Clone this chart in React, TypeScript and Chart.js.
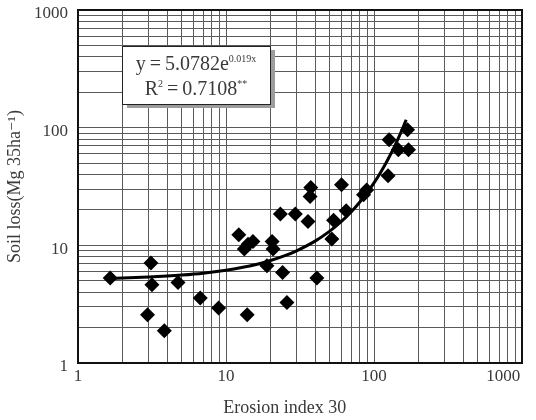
import React, { useEffect, useRef } from "react";
import { Chart, registerables } from "chart.js";

Chart.register(...registerables);

const erosionIndex = [1.65, 3.11, 3.16, 2.95, 3.83, 4.74, 6.7, 8.92, 12.2, 13.3, 14.1, 15.2, 13.9, 18.9, 20.5, 20.8, 24.1, 23.3, 25.8, 29.4, 35.8, 37.4, 37.0, 41.1, 51.9, 53.3, 60.3, 64.9, 85.0, 89.2, 124.5, 126.5, 146, 168.5, 171];
const soilLoss = [5.27, 7.06, 4.62, 2.57, 1.88, 4.83, 3.56, 2.93, 12.3, 9.29, 10.2, 10.8, 2.57, 6.7, 10.8, 9.3, 5.88, 18.5, 3.27, 18.5, 15.96, 31.0, 26.0, 5.27, 11.3, 16.3, 32.7, 19.7, 26.9, 29.6, 39.0, 78.8, 64.8, 95.8, 64.8];

// Fitted trend  y = 5.0782 e^(0.019x)
const trendA = 5.0782;
const trendB = 0.019;
const trendX = [1.65, 2, 3, 4, 5, 7, 10, 13, 16, 20, 25, 30, 40, 50, 60, 70, 80, 90, 100, 110, 120, 130, 140, 150, 158, 165];

// Axis ticks
const decadeLabels = [1, 10, 100, 1000];
const gridMultipliers = [1, 2, 3, 4, 5, 6, 7, 8, 9];

const equationLine1 = ["y\u2009=\u20095.0782e", "0.019x"];
const equationLine2 = ["R", "2", "\u2009=\u20090.7108", "**"];

const FONT = "'Liberation Serif', 'DejaVu Serif', serif";
const TEXT = "#3a3a3a";

function logTicks() {
  const vals: number[] = [];
  for (let d = 0; d < 3; d++) {
    for (const m of gridMultipliers) vals.push(m * Math.pow(10, d));
  }
  vals.push(1000);
  return vals.map((v) => ({ value: v, major: decadeLabels.includes(v) }));
}

type Part = { t: string; size: number; dy: number };
function drawRich(ctx: CanvasRenderingContext2D, parts: Part[], cx: number, by: number) {
  let total = 0;
  const widths = parts.map((p) => {
    ctx.font = `${p.size}px ${FONT}`;
    const w = ctx.measureText(p.t).width;
    total += w;
    return w;
  });
  let x = cx - total / 2;
  ctx.textAlign = "left";
  ctx.textBaseline = "alphabetic";
  parts.forEach((p, i) => {
    ctx.font = `${p.size}px ${FONT}`;
    ctx.fillText(p.t, x, by + p.dy);
    x += widths[i];
  });
}

const framePlugin = {
  id: "frameAndNote",
  afterDraw(chart: any) {
    const { ctx, chartArea } = chart;
    ctx.save();
    ctx.strokeStyle = "#111";
    ctx.lineWidth = 2;
    ctx.strokeRect(chartArea.left, chartArea.top, chartArea.right - chartArea.left, chartArea.bottom - chartArea.top);

    // annotation box
    const bx = chartArea.left + 44;
    const by = chartArea.top + 36;
    const bw = 148;
    const bh = 58;
    ctx.fillStyle = "#9c9c9c";
    ctx.fillRect(bx + 5, by + 4, bw, bh);
    ctx.fillStyle = "#fff";
    ctx.fillRect(bx, by, bw, bh);
    ctx.strokeStyle = "#222";
    ctx.lineWidth = 1;
    ctx.strokeRect(bx + 0.5, by + 0.5, bw, bh);

    ctx.fillStyle = TEXT;
    const cx = bx + bw / 2;
    drawRich(ctx, [
      { t: equationLine1[0], size: 20, dy: 0 },
      { t: equationLine1[1], size: 10, dy: -8 },
    ], cx, by + 24);
    drawRich(ctx, [
      { t: equationLine2[0], size: 20, dy: 0 },
      { t: equationLine2[1], size: 10, dy: -8 },
      { t: equationLine2[2], size: 20, dy: 0 },
      { t: equationLine2[3], size: 10, dy: -8 },
    ], cx, by + 49);
    ctx.restore();
  },
};

export default function App() {
  const ref = useRef<HTMLCanvasElement>(null);

  useEffect(() => {
    const canvas = ref.current;
    if (!canvas) return;
    const scatter = erosionIndex.map((x, i) => ({ x, y: soilLoss[i] }));
    const trend = trendX.map((x) => ({ x, y: trendA * Math.exp(trendB * x) }));

    const tickCb = (v: any) => (decadeLabels.includes(Number(v)) ? String(v) : "");
    const xTickCb = (v: any) => {
      const n = Number(v);
      if (n === 1000) return "1000\u2003\u2003\u2009";
      return decadeLabels.includes(n) ? String(n) : "";
    };

    const chart = new Chart(canvas, {
      type: "scatter",
      data: {
        datasets: [
          {
            label: "trend",
            type: "line",
            data: trend,
            borderColor: "#000",
            borderWidth: 3,
            pointRadius: 0,
            fill: false,
            tension: 0.3,
            order: 2,
          } as any,
          {
            label: "Soil loss",
            data: scatter,
            backgroundColor: "#000",
            borderColor: "#000",
            borderWidth: 0,
            pointStyle: "rectRot",
            pointRadius: 7.5,
            order: 1,
          },
        ],
      },
      options: {
        responsive: false,
        animation: false,
        devicePixelRatio: 1,
        layout: { padding: { top: 10, right: 14, left: 0, bottom: 0 } },
        plugins: { legend: { display: false }, tooltip: { enabled: false } },
        scales: {
          x: {
            type: "logarithmic",
            min: 1,
            max: 1000,
            afterBuildTicks: (s: any) => { s.ticks = logTicks(); },
            afterFit: (s: any) => { s.height = 57; s.paddingLeft = 0; s.paddingRight = 0; },
            grid: { color: "#5a5a5a", lineWidth: 1, drawTicks: false },
            border: { display: false },
            ticks: { callback: xTickCb, autoSkip: false, maxRotation: 0, padding: 3, color: TEXT, font: { family: FONT, size: 17 } },
            title: { display: true, text: "Erosion index 30\u2003\u2002\u2009", color: TEXT, font: { family: FONT, size: 18 }, padding: { top: 0, bottom: 1 } },
          },
          y: {
            type: "logarithmic",
            min: 1,
            max: 1000,
            afterBuildTicks: (s: any) => { s.ticks = logTicks(); },
            afterFit: (s: any) => { s.width = 78; s.paddingTop = 0; s.paddingBottom = 0; },
            grid: { color: "#5a5a5a", lineWidth: 1, drawTicks: false },
            border: { display: false },
            ticks: { callback: tickCb, autoSkip: false, padding: 10, labelOffset: 4, color: TEXT, font: { family: FONT, size: 17 } },
            title: { display: true, text: "Soil loss(Mg 35ha\u207B\u00B9)", color: TEXT, font: { family: FONT, size: 18 }, padding: { top: 4, bottom: 0 } },
          },
        },
      },
      plugins: [framePlugin],
    });
    return () => chart.destroy();
  }, []);

  return (
    <div style={{ position: "fixed", left: 0, top: 0, width: 536, height: 420, background: "#fff" }}>
      <canvas ref={ref} width={536} height={420} style={{ width: 536, height: 420, display: "block" }} />
    </div>
  );
}
